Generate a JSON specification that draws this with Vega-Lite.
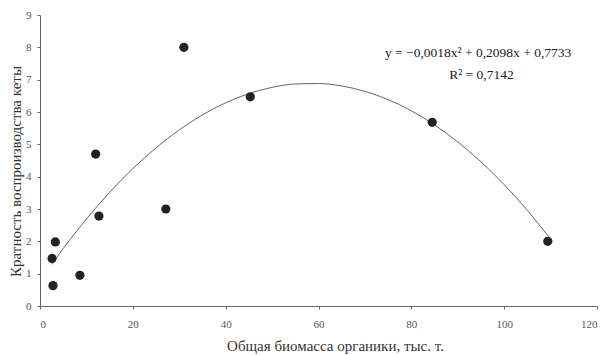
{
  "$schema": "https://vega.github.io/schema/vega-lite/v6.json",
  "width": 557,
  "height": 291,
  "padding": {"left": 40, "top": 15, "right": 10, "bottom": 49},
  "autosize": {"type": "none"},
  "background": "white",
  "config": {
    "view": {"stroke": null},
    "font": "Liberation Serif",
    "axis": {
      "grid": false,
      "domainColor": "#666",
      "tickColor": "#666",
      "labelColor": "#555",
      "labelFont": "Liberation Serif",
      "labelFontSize": 11,
      "titleFont": "Liberation Serif",
      "titleFontWeight": "normal",
      "titleColor": "#333",
      "titleFontSize": 15,
      "tickSize": 3
    },
    "axisY": {"labelOverlap": false, "labelSeparation": 0}
  },
  "datasets": {
    "points": [
      {"x": 2.6, "y": 1.47},
      {"x": 2.8, "y": 0.63},
      {"x": 3.3, "y": 1.98},
      {"x": 8.6, "y": 0.95},
      {"x": 12.7, "y": 2.78},
      {"x": 12.0, "y": 4.7},
      {"x": 27.1, "y": 3.0},
      {"x": 31.0, "y": 8.0},
      {"x": 45.3, "y": 6.47},
      {"x": 84.5, "y": 5.68},
      {"x": 109.4, "y": 2.0}
    ],
    "trend": [
      {"x": 2.5, "y": 1.287},
      {"x": 5, "y": 1.777},
      {"x": 10, "y": 2.691},
      {"x": 15, "y": 3.515},
      {"x": 20, "y": 4.249},
      {"x": 25, "y": 4.893},
      {"x": 30, "y": 5.447},
      {"x": 35, "y": 5.911},
      {"x": 40, "y": 6.285},
      {"x": 45, "y": 6.569},
      {"x": 50, "y": 6.763},
      {"x": 55, "y": 6.867},
      {"x": 60, "y": 6.881},
      {"x": 65, "y": 6.805},
      {"x": 70, "y": 6.639},
      {"x": 75, "y": 6.383},
      {"x": 80, "y": 6.037},
      {"x": 85, "y": 5.601},
      {"x": 90, "y": 5.075},
      {"x": 95, "y": 4.459},
      {"x": 100, "y": 3.753},
      {"x": 105, "y": 2.957},
      {"x": 110, "y": 2.071}
    ],
    "labels": [
      {"x": 94.4, "y": 7.83, "t": "y = −0,0018x² + 0,2098x + 0,7733"},
      {"x": 95.1, "y": 7.14, "t": "R² = 0,7142"}
    ]
  },
  "layer": [
    {
      "data": {"name": "trend"},
      "mark": {"type": "line", "color": "#555", "strokeWidth": 0.9, "interpolate": "monotone"},
      "encoding": {
        "x": {"field": "x", "type": "quantitative", "scale": {"domain": [0, 120], "nice": false},
          "axis": {"values": [0, 20, 40, 60, 80, 100, 120], "title": "Общая биомасса органики, тыс. т.", "titleX": 295, "titleY": 44, "titleBaseline": "alphabetic", "labelPadding": 9}},
        "y": {"field": "y", "type": "quantitative", "scale": {"domain": [0, 9], "nice": false},
          "axis": {"tickCount": 9, "title": "Кратность воспроизводства кеты", "titleX": -25, "titleY": 156, "titleBaseline": "middle", "labelPadding": 6}}
      }
    },
    {
      "data": {"name": "points"},
      "mark": {"type": "point", "filled": true, "color": "#222", "opacity": 1, "size": 85},
      "encoding": {
        "x": {"field": "x", "type": "quantitative"},
        "y": {"field": "y", "type": "quantitative"}
      }
    },
    {
      "data": {"name": "labels"},
      "mark": {"type": "text", "fontSize": 13.5, "color": "#222", "align": "center", "baseline": "middle", "font": "Liberation Serif"},
      "encoding": {
        "x": {"field": "x", "type": "quantitative"},
        "y": {"field": "y", "type": "quantitative"},
        "text": {"field": "t"}
      }
    }
  ]
}
